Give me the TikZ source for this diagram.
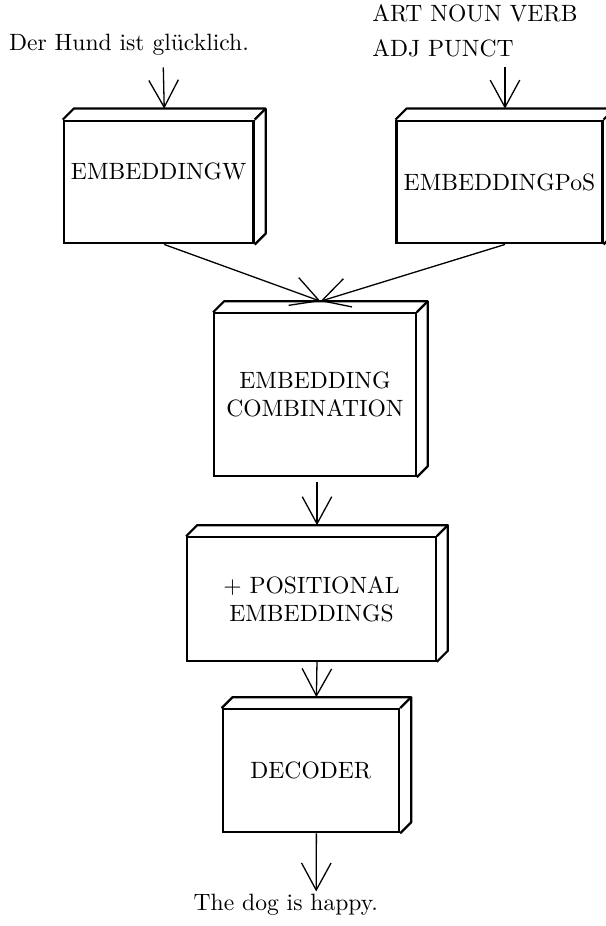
\documentclass[tikz,border=0pt]{standalone}
\usepackage{tikz}
\usetikzlibrary{arrows.meta,positioning}
\newcommand{\boxdepth}{0.164}
\tikzset{
  layerbox/.style={
    draw,
    line width=0.95pt,
    align=center,
    inner sep=3pt,
    append after command={
      \pgfextra{\let\boxnode\tikzlastnode
        \draw[line width=0.95pt,line join=round] (\boxnode.north west) -- ++(\boxdepth,\boxdepth)
          -- ([shift={(\boxdepth,\boxdepth)}]\boxnode.north east)
          -- ([shift={(\boxdepth,\boxdepth)}]\boxnode.south east)
          -- (\boxnode.south east);
        \draw[line width=0.95pt] (\boxnode.north east) -- ++(\boxdepth,\boxdepth);}
    }
  },
  flowline/.style={
    -{Straight Barb[length=11.5pt,width=12.5pt]},
    line width=0.55pt
  }
}

\begin{document}
\begin{tikzpicture}[x=1cm,y=1cm]
  \useasboundingbox (0,0) rectangle (9.025,-13.791);
  \node[anchor=base] (srcTxt) at (1.921,-0.745) {Der Hund ist glücklich.};
  \node[anchor=base west,align=left] (tagTxt) at (5.421,-0.845) {ART NOUN VERB\\[2.8pt]ADJ PUNCT};
  \node[layerbox,minimum width=2.740cm,minimum height=1.826cm,text depth=9pt] (embW) at (2.364,-2.711) {EMBEDDINGW};
  \node[layerbox,minimum width=3.062cm,minimum height=1.826cm] (embPoS) at (7.439,-2.711) {EMBEDDINGPoS};
  \node[layerbox,minimum width=3.000cm,minimum height=2.423cm] (comb) at (4.691,-5.878) {EMBEDDING\\COMBINATION};
  \node[layerbox,minimum width=3.699cm,minimum height=1.838cm] (posEmb) at (4.639,-8.921) {+ POSITIONAL\\EMBEDDINGS};
  \node[layerbox,minimum width=2.626cm,minimum height=1.832cm] (dec) at (4.630,-11.479) {DECODER};
  \node[anchor=base] (tgtTxt) at (4.257,-13.563) {The dog is happy.};
  \coordinate (inW) at (2.432,-1.005);
  \coordinate (inPoS) at (7.521,-1.005);
  \coordinate (outDec) at (4.709,-13.277);
  \draw[flowline] (inW) -- ([shift={(\boxdepth/2,\boxdepth)}]embW.north);
  \draw[flowline] (inPoS) -- ([shift={(\boxdepth/2,\boxdepth)}]embPoS.north);
  \foreach \src/\dst in {embW/comb,embPoS/comb,posEmb/dec}{\draw[flowline] ([shift={(\boxdepth/2,0)}]\src.south) -- ([shift={(\boxdepth/2,\boxdepth)}]\dst.north);}
  \draw[flowline] ([shift={(\boxdepth/2,-0.07)}]posEmb.north |- comb.south) -- ([shift={(\boxdepth/2,\boxdepth)}]posEmb.north);
  \draw[flowline] ([shift={(\boxdepth/2,0)}]dec.south) -- (outDec);
\end{tikzpicture}
\end{document}
